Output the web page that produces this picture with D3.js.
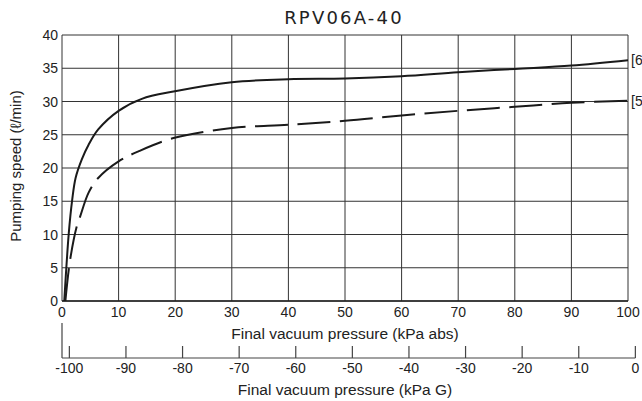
<!DOCTYPE html>
<html>
<head>
	<title> RPV06A-40 </title>
	<script src="https://d3js.org/d3.v7.min.js"></script>
	<style>
		body { margin: 0; background: #fff; }
		text { font-family: "Liberation Sans", Arial, sans-serif; fill: #222; }
	</style>
</head>
<body>
	<svg width="642" height="401"></svg>
	<script type="text/javascript">
		// data
		let xTicksAbs = [0, 10, 20, 30, 40, 50, 60, 70, 80, 90, 100];
		let xTicksG = [-100, -90, -80, -70, -60, -50, -40, -30, -20, -10, 0];
		let yTicks = [0, 5, 10, 15, 20, 25, 30, 35, 40];
		let press60 = [0.4, 1.2, 1.8, 2.4, 3.5, 4.7, 6.4, 10, 14.1, 19.7, 30, 40, 50, 60, 70, 80, 90, 100];
		let speed60 = [0, 10.2, 15.2, 18.5, 21.3, 23.5, 25.8, 28.6, 30.4, 31.5, 32.9, 33.35, 33.45, 33.8, 34.4, 34.9, 35.4, 36.2];
		let press50 = [0.6, 1.4, 2.6, 3.2, 4.7, 6.4, 10, 13.5, 19.7, 30, 40, 50, 60, 70, 80, 90, 100];
		let speed50 = [0, 6, 11.2, 12.7, 16.3, 18.5, 21, 22.5, 24.5, 26.0, 26.5, 27.1, 27.9, 28.6, 29.2, 29.8, 30.1];
		let atm = 101.3; // kPa abs at 0 kPa G

		let svg = d3.select("svg");
		let x = d3.scaleLinear().domain([0, 100]).range([62, 628]);
		let y = d3.scaleLinear().domain([0, 40]).range([301, 35]);

		// grid
		svg.append("g").selectAll("line").data(xTicksAbs).join("line")
			.attr("x1", d => x(d)).attr("x2", d => x(d))
			.attr("y1", y(0)).attr("y2", y(40))
			.attr("stroke", "#333").attr("stroke-width", 1);
		svg.append("g").selectAll("line").data(yTicks).join("line")
			.attr("x1", x(0)).attr("x2", x(100))
			.attr("y1", d => y(d)).attr("y2", d => y(d))
			.attr("stroke", "#333").attr("stroke-width", 1);
		svg.append("line").attr("x1", x(0)).attr("x2", x(100)).attr("y1", y(0)).attr("y2", y(0))
			.attr("stroke", "#222").attr("stroke-width", 1.6);

		// y labels
		svg.append("g").selectAll("text").data(yTicks).join("text")
			.attr("x", 58).attr("y", d => y(d) + 5)
			.attr("text-anchor", "end").attr("font-size", 14)
			.text(d => d);
		svg.append("text")
			.attr("transform", "translate(21,166) rotate(-90)")
			.attr("text-anchor", "middle").attr("font-size", 15)
			.text("Pumping speed (ℓ/min)");

		// x labels (abs)
		svg.append("g").selectAll("text").data(xTicksAbs).join("text")
			.attr("x", d => x(d)).attr("y", 317)
			.attr("text-anchor", "middle").attr("font-size", 14)
			.text(d => d);
		svg.append("text").attr("x", 345).attr("y", 339)
			.attr("text-anchor", "middle").attr("font-size", 15.5)
			.text("Final vacuum pressure (kPa abs)");

		// gauge axis
		let xg = d3.scaleLinear().domain([-atm, 0]).range([x(0), x(atm)]);
		svg.append("line").attr("x1", x(0)).attr("x2", x(0)).attr("y1", 323).attr("y2", 358)
			.attr("stroke", "#444").attr("stroke-width", 1.2);
		svg.append("line").attr("x1", x(0)).attr("x2", xg(0)).attr("y1", 358).attr("y2", 358)
			.attr("stroke", "#444").attr("stroke-width", 1.2);
		svg.append("g").selectAll("line").data(xTicksG).join("line")
			.attr("x1", d => xg(d)).attr("x2", d => xg(d)).attr("y1", 346).attr("y2", 358)
			.attr("stroke", "#444").attr("stroke-width", 1.2);
		svg.append("g").selectAll("text").data(xTicksG).join("text")
			.attr("x", d => xg(d)).attr("y", 373)
			.attr("text-anchor", "middle").attr("font-size", 14)
			.text(d => d);
		svg.append("text").attr("x", 345).attr("y", 395)
			.attr("text-anchor", "middle").attr("font-size", 15.5)
			.text("Final vacuum pressure (kPa G)");

		// curves
		let line = d3.line().x(d => x(d[0])).y(d => y(d[1])).curve(d3.curveCatmullRom.alpha(0.5));
		svg.append("path").datum(d3.zip(press60, speed60))
			.attr("fill", "none").attr("stroke", "#1a1a1a").attr("stroke-width", 2)
			.attr("d", line);
		svg.append("path").datum(d3.zip(press50, speed50))
			.attr("fill", "none").attr("stroke", "#1a1a1a").attr("stroke-width", 2)
			.attr("stroke-dasharray", "33,9.5")
			.attr("d", line);

		svg.append("text").attr("x", 631).attr("y", y(speed60[speed60.length - 1]) + 5)
			.attr("font-size", 14).text("[60Hz]");
		svg.append("text").attr("x", 631).attr("y", y(speed50[speed50.length - 1]) + 5)
			.attr("font-size", 14).text("[50Hz]");

		// title
		svg.append("text").attr("x", 344).attr("y", 24)
			.attr("text-anchor", "middle").attr("font-size", 18)
			.attr("letter-spacing", 2.2)
			.style("font-family", "'DejaVu Sans', sans-serif")
			.text("RPV06A-40");
	</script>
</body>
</html>
